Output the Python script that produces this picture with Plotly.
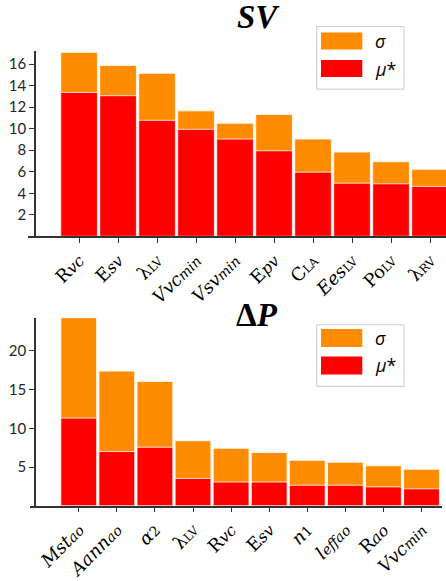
import plotly.graph_objects as go

def sb(s, size=14):
    return f'<span style="font-size:{size}px">{s}</span>'

# ---------------- data ----------------
sv_labels = ["R" + sb("<i>vc</i>", 16), "E" + sb("<i>sv</i>", 16), "λ" + sb("LV", 12),
             "<i>Vvc</i>" + sb("<i>min</i>", 14), "<i>Vsv</i>" + sb("<i>min</i>", 14), "E" + sb("<i>pv</i>", 16),
             "C" + sb("LA", 12), "<i>Ees</i>" + sb("LV", 12), "Po" + sb("LV", 12), "λ" + sb("RV", 12)]
sv_mu = [13.37, 13.07, 10.78, 9.94, 9.04, 7.95, 5.96, 4.94, 4.88, 4.64]
sv_sigma = [17.1, 15.87, 15.15, 11.66, 10.51, 11.33, 9.04, 7.83, 6.93, 6.23]
sv_yticks = [2, 4, 6, 8, 10, 12, 14, 16]

dp_labels = ["<i>Mst</i>" + sb("<i>ao</i>", 14), "<i>Aann</i>" + sb("<i>ao</i>", 14), "<i>α</i>" + sb("2", 14),
             "λ" + sb("LV", 12), "R" + sb("<i>vc</i>", 16), "E" + sb("<i>sv</i>", 16),
             "<i>n</i>" + sb("1", 14), "<i>l</i>" + sb("<i>effao</i>", 14), "R" + sb("<i>ao</i>", 16),
             "<i>Vvc</i>" + sb("<i>min</i>", 14)]
dp_mu = [11.32, 7.0, 7.55, 3.52, 3.06, 3.06, 2.64, 2.64, 2.43, 2.18]
dp_sigma = [24.3, 17.4, 16.06, 8.39, 7.42, 6.88, 5.87, 5.62, 5.16, 4.70]
dp_yticks = [5, 10, 15, 20]

ORANGE = "#FF8C00"
RED = "#FF0000"
W, H = 446, 581

def px(x):
    return x / W

def py(y):
    return 1 - y / H

fig = go.Figure()
bar_style = dict(width=0.94, marker_line_color="white", marker_line_width=0.8, showlegend=False)
fig.add_trace(go.Bar(x=sv_labels, y=sv_sigma, marker_color=ORANGE, name="σ", xaxis="x", yaxis="y", **bar_style))
fig.add_trace(go.Bar(x=sv_labels, y=sv_mu, marker_color=RED, name="μ*", xaxis="x", yaxis="y", **bar_style))
fig.add_trace(go.Bar(x=dp_labels, y=dp_sigma, marker_color=ORANGE, name="σ", xaxis="x2", yaxis="y2", **bar_style))
fig.add_trace(go.Bar(x=dp_labels, y=dp_mu, marker_color=RED, name="μ*", xaxis="x2", yaxis="y2", **bar_style))

axis_common = dict(showline=True, linecolor="#333333", linewidth=1.5, ticks="outside",
                   ticklen=5, tickcolor="#333333", showgrid=False, zeroline=False)
xfont = dict(family="DejaVu Serif", size=18, color="black")
yfont = dict(family="Lato", size=15, color="#262626")

fig.update_layout(
    width=W, height=H,
    margin=dict(l=0, r=0, t=0, b=0),
    paper_bgcolor="white", plot_bgcolor="white",
    barmode="overlay",
    xaxis=dict(domain=[px(28), 1.0], anchor="y", range=[-1.31, 9.41], tickangle=-45,
               tickfont=xfont, **axis_common),
    yaxis=dict(domain=[py(243), py(52.7)], anchor="free", position=px(35), range=[0, 17.2],
               tickvals=sv_yticks, tickfont=yfont, **axis_common),
    xaxis2=dict(domain=[px(30), px(441.7)], anchor="y2", range=[-1.28, 9.53], tickangle=-45,
                tickfont=xfont, **axis_common),
    yaxis2=dict(domain=[py(520), py(326.7)], anchor="free", position=px(35), range=[0, 24.3],
                tickvals=dp_yticks, tickfont=yfont, **axis_common),
)

# titles
fig.add_annotation(text="<b><i>SV</i></b>", x=px(258), y=py(17), xref="paper", yref="paper",
                   xanchor="center", yanchor="middle",
                   showarrow=False, font=dict(family="Liberation Serif", size=33, color="black"))
fig.add_annotation(text="<b>Δ<i>P</i></b>", x=px(257), y=py(323.5), xref="paper", yref="paper",
                   xanchor="center", yanchor="middle",
                   showarrow=False, font=dict(family="Liberation Serif", size=33, color="black"))

# custom legends (large swatches as in the reference)
for (bx0, by0, bx1, by1), (o0, o1), (r0, r1) in [
    ((316.7, 27.3, 404, 91.7), (33.3, 51), (61.7, 79.3)),
    ((316.7, 334, 404, 397.3), (338.3, 356.7), (366.7, 385)),
]:
    fig.add_shape(type="rect", xref="paper", yref="paper", x0=px(bx0), x1=px(bx1), y0=py(by1), y1=py(by0),
                  line=dict(color="#cccccc", width=1), fillcolor="white")
    fig.add_shape(type="rect", xref="paper", yref="paper", x0=px(321), x1=px(362.3), y0=py(o1), y1=py(o0),
                  line=dict(width=0), fillcolor=ORANGE)
    fig.add_shape(type="rect", xref="paper", yref="paper", x0=px(321), x1=px(362.3), y0=py(r1), y1=py(r0),
                  line=dict(width=0), fillcolor=RED)
    fig.add_annotation(text="<i>σ</i>", x=px(373), y=py((o0 + o1) / 2), xref="paper", yref="paper",
                       xanchor="left", yanchor="middle", showarrow=False,
                       font=dict(family="Open Sans", size=18, color="black"))
    fig.add_annotation(text="<i>μ</i>*", x=px(373), y=py((r0 + r1) / 2), xref="paper", yref="paper",
                       xanchor="left", yanchor="middle", showarrow=False,
                       font=dict(family="Open Sans", size=18, color="black"))

fig.write_html("out.html", config={"displayModeBar": False},
               post_script="document.body.style.margin='0';document.body.style.overflow='hidden';")
